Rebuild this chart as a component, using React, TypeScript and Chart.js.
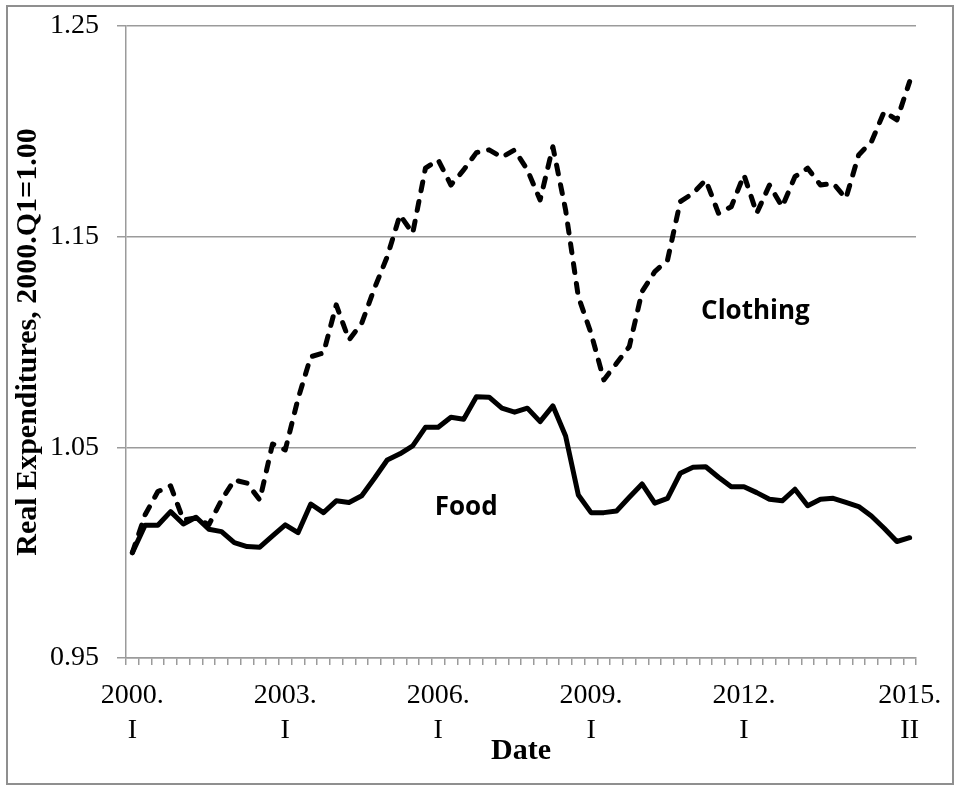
import React, { useEffect, useRef } from "react";
import { Chart, registerables } from "chart.js";

Chart.register(...registerables);

const quarters: string[] = [
  "2000.I", "2000.II", "2000.III", "2000.IV",
  "2001.I", "2001.II", "2001.III", "2001.IV",
  "2002.I", "2002.II", "2002.III", "2002.IV",
  "2003.I", "2003.II", "2003.III", "2003.IV",
  "2004.I", "2004.II", "2004.III", "2004.IV",
  "2005.I", "2005.II", "2005.III", "2005.IV",
  "2006.I", "2006.II", "2006.III", "2006.IV",
  "2007.I", "2007.II", "2007.III", "2007.IV",
  "2008.I", "2008.II", "2008.III", "2008.IV",
  "2009.I", "2009.II", "2009.III", "2009.IV",
  "2010.I", "2010.II", "2010.III", "2010.IV",
  "2011.I", "2011.II", "2011.III", "2011.IV",
  "2012.I", "2012.II", "2012.III", "2012.IV",
  "2013.I", "2013.II", "2013.III", "2013.IV",
  "2014.I", "2014.II", "2014.III", "2014.IV",
  "2015.I", "2015.II",
];

const food: number[] = [
  1.0, 1.013, 1.013, 1.0195, 1.0136, 1.0168, 1.0111, 1.01,
  1.0048, 1.0029, 1.0026, 1.008, 1.0132, 1.0095, 1.0231, 1.019,
  1.0246, 1.0238, 1.027, 1.0353, 1.044, 1.0469, 1.0507, 1.0595,
  1.0595, 1.0643, 1.0633, 1.074, 1.0738, 1.0686, 1.0667, 1.0686,
  1.0622, 1.0697, 1.0554, 1.0274, 1.019, 1.019, 1.0198, 1.0263,
  1.0326, 1.0235, 1.0258, 1.0377, 1.0405, 1.0408, 1.0358, 1.0313,
  1.0313, 1.0285, 1.0254, 1.0246, 1.0301, 1.0223, 1.0254, 1.0258,
  1.0239, 1.0219, 1.0174, 1.0116, 1.0053, 1.0071,
];

const clothing: number[] = [
  1.0, 1.018, 1.029, 1.0317, 1.0155, 1.0165, 1.0132, 1.025,
  1.0345, 1.033, 1.025, 1.0516, 1.0488, 1.073, 1.093, 1.0948,
  1.1176, 1.101, 1.1089, 1.1255, 1.1405, 1.1603, 1.1516, 1.1825,
  1.1864, 1.1745, 1.1817, 1.1899, 1.1912, 1.1877, 1.1912, 1.1817,
  1.1674, 1.1927, 1.1627, 1.1215, 1.1041, 1.082, 1.0899, 1.0978,
  1.1239, 1.1334, 1.1389, 1.1666, 1.1706, 1.1769, 1.1611, 1.1642,
  1.1793, 1.1611, 1.1745, 1.1642, 1.1785, 1.1825, 1.1745, 1.1753,
  1.1682, 1.1888, 1.195, 1.2093, 1.2054, 1.2236,
];

const tickCategories: string[] = ["2000.I", "2003.I", "2006.I", "2009.I", "2012.I", "2015.II"];
const tickLines: string[][] = [
  ["2000.", "I"],
  ["2003.", "I"],
  ["2006.", "I"],
  ["2009.", "I"],
  ["2012.", "I"],
  ["2015.", "II"],
];

const yMin = 0.95;
const yMax = 1.25;
const yStep = 0.1;

const annotationTexts: string[] = ["Clothing", "Food"];
const annotationX: number[] = [48.9, 26.2];
const annotationY: number[] = [1.1145, 1.0215];

const GRAY = "#9b9b9b";

const annotationPlugin = {
  id: "seriesLabels",
  afterDatasetsDraw(chart: any) {
    const ctx = chart.ctx;
    const xs = chart.scales.x;
    const ys = chart.scales.y;
    ctx.save();
    ctx.fillStyle = "#000";
    ctx.font = 'bold 26px "Open Sans"';
    ctx.textAlign = "center";
    ctx.textBaseline = "middle";
    annotationTexts.forEach((t, i) => {
      ctx.fillText(t, xs.getPixelForValue(annotationX[i]), ys.getPixelForValue(annotationY[i]));
    });
    ctx.restore();
  },
};

export default function App() {
  const ref = useRef<HTMLCanvasElement | null>(null);

  useEffect(() => {
    if (!ref.current) return;
    const chart = new Chart(ref.current, {
      type: "line",
      data: {
        labels: quarters,
        datasets: [
          {
            label: "Food",
            data: food,
            borderColor: "#000",
            borderWidth: 5,
            pointRadius: 0,
            borderJoinStyle: "round",
            borderCapStyle: "round",
            tension: 0,
            order: 0,
          },
          {
            label: "Clothing",
            data: clothing,
            borderColor: "#000",
            borderWidth: 5,
            borderDash: [9, 11],
            pointRadius: 0,
            borderJoinStyle: "round",
            borderCapStyle: "round",
            tension: 0,
            order: 1,
          },
        ],
      },
      options: {
        animation: false,
        responsive: true,
        maintainAspectRatio: false,
        layout: { padding: { top: 26, right: 40, left: 0, bottom: 0 } },
        plugins: {
          legend: { display: false },
          tooltip: { enabled: false },
          title: { display: false },
        },
        scales: {
          x: {
            type: "category",
            offset: true,
            grid: {
              display: true,
              drawOnChartArea: false,
              drawTicks: true,
              tickLength: 7,
              offset: true,
              color: GRAY,
              lineWidth: 1.5,
            },
            border: { display: true, color: GRAY, width: 1.5 },
            ticks: {
              autoSkip: false,
              maxRotation: 0,
              minRotation: 0,
              padding: 14,
              color: "#000",
              font: { family: "Liberation Serif", size: 28, lineHeight: 1.22 },
              callback: (value: any, index: number) => {
                const k = tickCategories.indexOf(quarters[index]);
                return k >= 0 ? tickLines[k] : "";
              },
            },
            title: {
              display: true,
              text: "Date",
              color: "#000",
              font: { family: "Liberation Serif", size: 30, weight: "bold" },
              padding: { top: 0, bottom: 17 },
            },
            afterFit: (scale: any) => {
              scale.height = 128;
            },
          },
          y: {
            min: yMin,
            max: yMax,
            ticks: {
              stepSize: yStep,
              padding: 18,
              color: "#000",
              font: { family: "Liberation Serif", size: 28, lineHeight: 0.55 },
              callback: (v: any) => Number(v).toFixed(2),
            },
            grid: {
              color: GRAY,
              lineWidth: 1.5,
              drawTicks: true,
              tickLength: 9,
            },
            border: { display: true, color: GRAY, width: 1.5 },
            title: {
              display: true,
              text: "Real Expenditures, 2000.Q1=1.00",
              color: "#000",
              font: { family: "Liberation Serif", size: 30, weight: "bold" },
              padding: { top: 10, bottom: 0 },
            },
            afterFit: (scale: any) => {
              scale.width = 126;
            },
          },
        },
      },
      plugins: [annotationPlugin],
    });
    return () => chart.destroy();
  }, []);

  return (
    <div style={{ position: "absolute", left: 0, top: 0, width: 956, height: 786, background: "#fff" }}>
      <canvas ref={ref} />
      <div
        style={{
          position: "absolute",
          left: 6,
          top: 5,
          width: 944,
          height: 776,
          border: "2px solid #8f8f8f",
          pointerEvents: "none",
        }}
      />
    </div>
  );
}
